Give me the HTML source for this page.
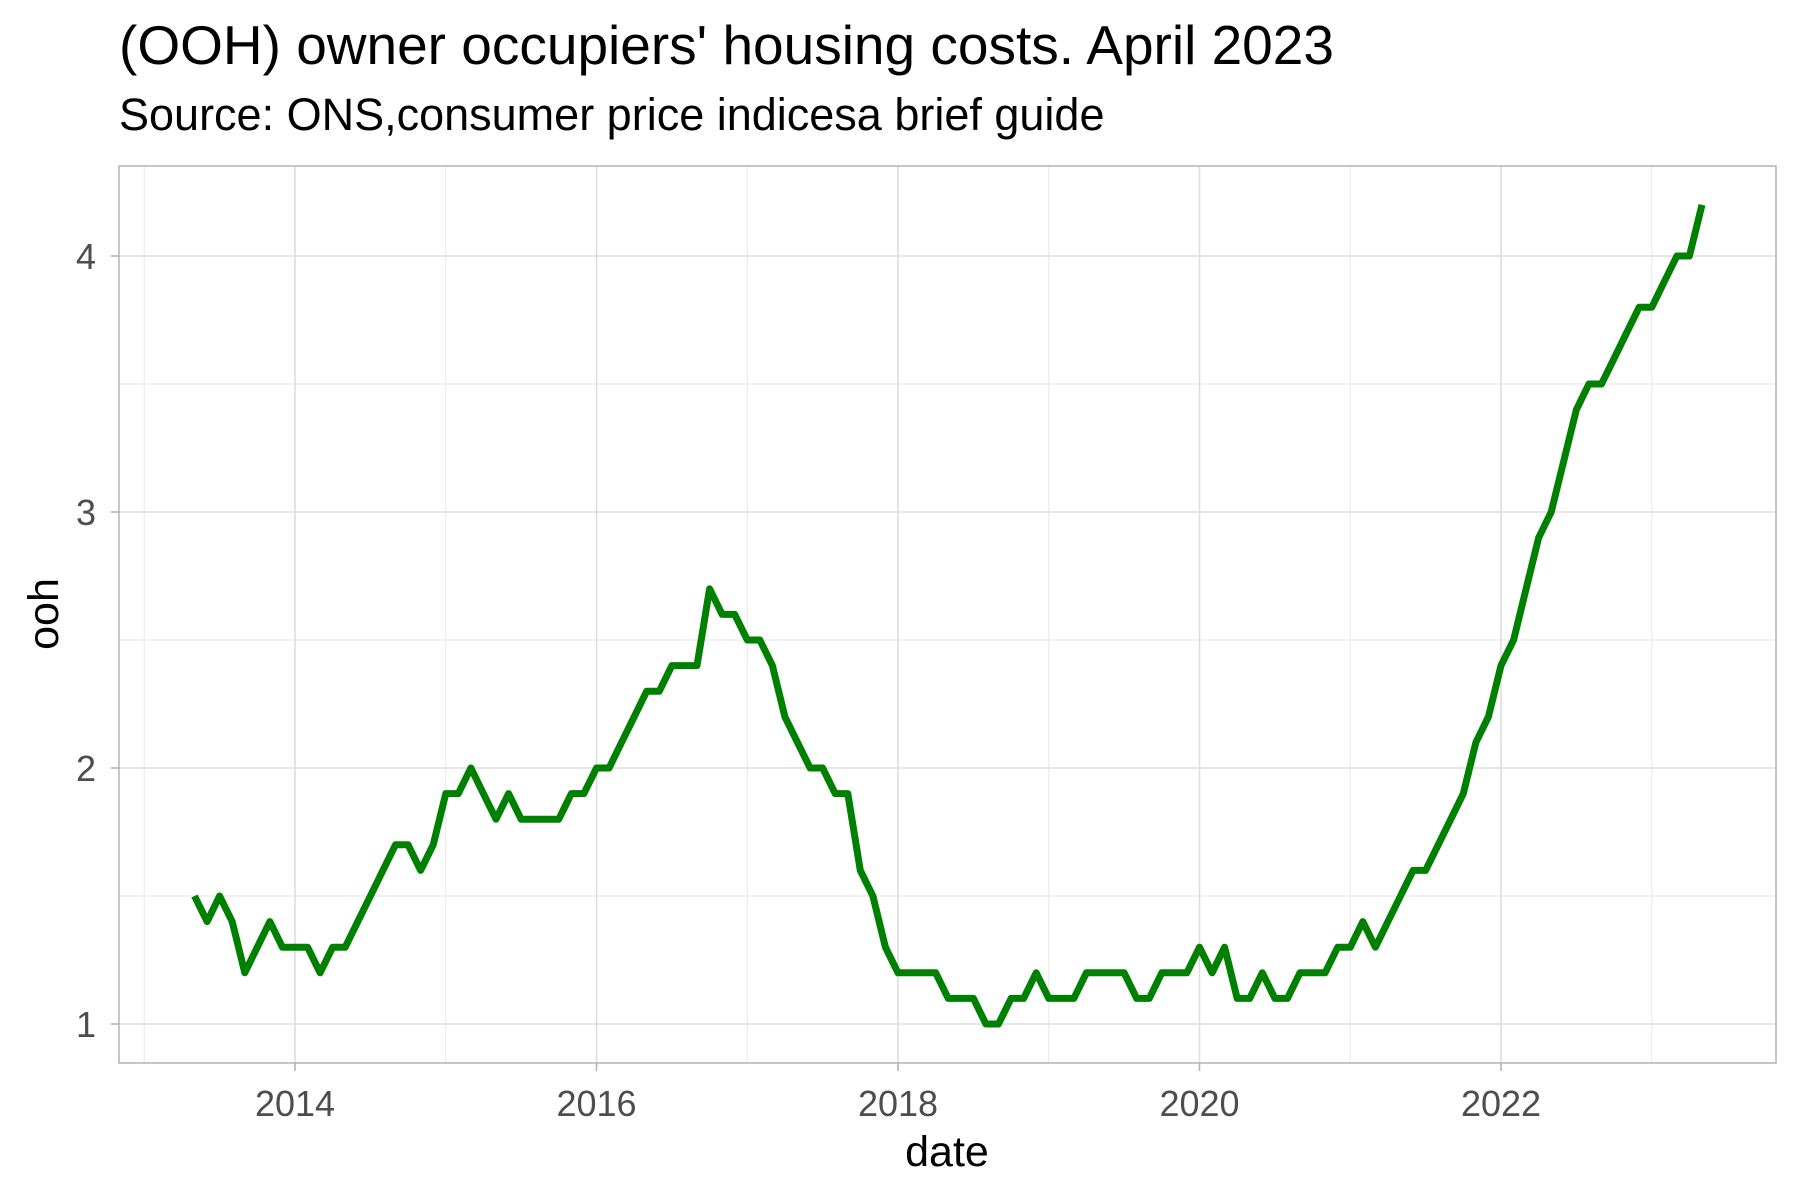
<!DOCTYPE html>
<html><head><meta charset="utf-8"><style>
html,body{margin:0;padding:0;background:#fff;}
svg{display:block;font-family:"Liberation Sans",sans-serif;}
</style></head><body>
<svg id="chart" width="1800" height="1200" viewBox="0 0 1800 1200">
<text x="119" y="64" font-size="55" fill="#000">(OOH) owner occupiers' housing costs. April 2023</text>
<text x="119" y="130" font-size="45" fill="#000">Source: ONS,consumer price indicesa brief guide</text>
<g id="grid"></g>
<rect x="119" y="166" width="1657" height="897" fill="none" stroke="#b3b3b3" stroke-width="1.5"/>
<g id="marks"></g>
<g id="axes"></g>
<text x="947" y="1166" font-size="43" text-anchor="middle" fill="#000">date</text>
<text transform="translate(58,614) rotate(-90)" font-size="43" text-anchor="middle" fill="#000">ooh</text>
</svg>
<script>
const startYear = 2013, startMonth = 5;
const oohValues = [
1.5,1.4,1.5,1.4,1.2,1.3,1.4,1.3,
1.3,1.3,1.2,1.3,1.3,1.4,1.5,1.6,1.7,1.7,1.6,1.7,
1.9,1.9,2.0,1.9,1.8,1.9,1.8,1.8,1.8,1.8,1.9,1.9,
2.0,2.0,2.1,2.2,2.3,2.3,2.4,2.4,2.4,2.7,2.6,2.6,
2.5,2.5,2.4,2.2,2.1,2.0,2.0,1.9,1.9,1.6,1.5,1.3,
1.2,1.2,1.2,1.2,1.1,1.1,1.1,1.0,1.0,1.1,1.1,1.2,
1.1,1.1,1.1,1.2,1.2,1.2,1.2,1.1,1.1,1.2,1.2,1.2,
1.3,1.2,1.3,1.1,1.1,1.2,1.1,1.1,1.2,1.2,1.2,1.3,
1.3,1.4,1.3,1.4,1.5,1.6,1.6,1.7,1.8,1.9,2.1,2.2,
2.4,2.5,2.7,2.9,3.0,3.2,3.4,3.5,3.5,3.6,3.7,3.8,
3.8,3.9,4.0,4.0,4.2];
const xTickLabels = ["2014","2016","2018","2020","2022"];
const xMinorTicks = [2013,2015,2017,2019,2021,2023];
const yTickLabels = ["1","2","3","4"];
const yMinorTicks = [1.5,2.5,3.5];

const NS="http://www.w3.org/2000/svg";
function xScale(t){return 295+(t-2014)*150.75;}
function yScale(v){return 1024-(v-1)*256;}
function mk(tag,attrs,parent){const e=document.createElementNS(NS,tag);for(const k in attrs)e.setAttribute(k,attrs[k]);parent.appendChild(e);return e;}
const grid=document.getElementById('grid'), axes=document.getElementById('axes'), marks=document.getElementById('marks');

xMinorTicks.forEach(t=>{const l=mk('line',{x1:xScale(t),x2:xScale(t),y1:166,y2:1063,stroke:'#ebebeb','stroke-width':1.2},grid);

});
yMinorTicks.forEach(v=>{const l=mk('line',{x1:119,x2:1776,y1:yScale(v),y2:yScale(v),stroke:'#ebebeb','stroke-width':1.2},grid);

});
xTickLabels.forEach(s=>{const x=xScale(+s);
const l=mk('line',{x1:x,x2:x,y1:166,y2:1063,stroke:'#dedede','stroke-width':1.6},grid);


const tk=mk('line',{x1:x,x2:x,y1:1063,y2:1071,stroke:'#b3b3b3','stroke-width':1.6},axes);


const tx=mk('text',{x:x,y:1116,'font-size':36,'text-anchor':'middle',fill:'#4d4d4d'},axes);tx.textContent=s;

});
yTickLabels.forEach(s=>{const y=yScale(+s);
const l=mk('line',{x1:119,x2:1776,y1:y,y2:y,stroke:'#dedede','stroke-width':1.6},grid);


const tk=mk('line',{x1:111,x2:119,y1:y,y2:y,stroke:'#b3b3b3','stroke-width':1.6},axes);


const tx=mk('text',{x:96,y:y+13,'font-size':36,'text-anchor':'end',fill:'#4d4d4d'},axes);tx.textContent=s;

});

const pts=oohValues.map((v,i)=>{const t=startYear+(startMonth-1+i)/12;return xScale(t).toFixed(1)+','+yScale(v).toFixed(1);});
const line=mk('polyline',{points:pts.join(' '),fill:'none',stroke:'#008000','stroke-width':7,'stroke-linejoin':'round'},marks);


</script>
</body></html>
